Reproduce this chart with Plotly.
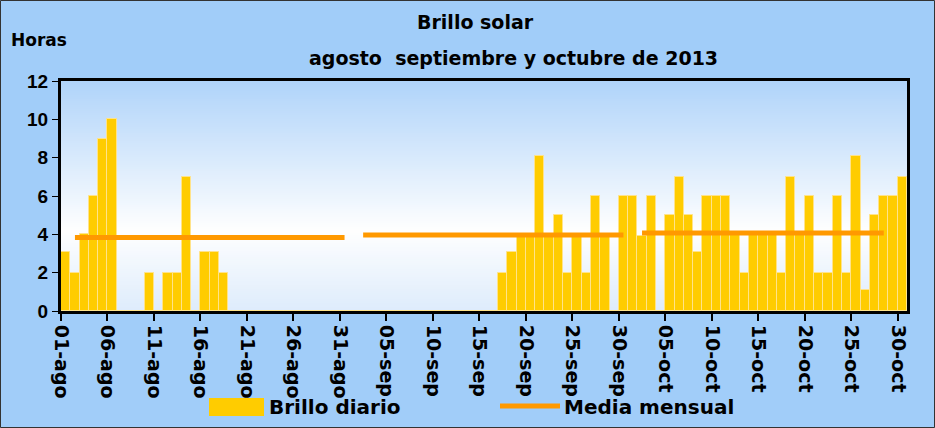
import plotly.graph_objects as go
import pandas as pd

# ---------------- data ----------------
fechas = pd.date_range("2013-08-01", "2013-10-30", freq="D")

brillo_agosto = [3.1, 2, 4, 6, 9, 10, 0, 0, 0, 2, 0, 2, 2, 7, 0, 3.1, 3.1, 2,
                 0, 0, 0, 0, 0, 0, 0, 0, 0, 0, 0, 0, 0]
brillo_septiembre = [0, 0, 0, 0, 0, 0, 0, 0, 0, 0, 0, 0, 0, 0, 0, 0,
                     2, 3.1, 3.9, 3.9, 8.1, 3.9, 5, 2, 3.9, 2, 6, 3.9, 0, 6]
brillo_octubre = [6, 3.9, 6, 0, 5, 7, 5, 3.1, 6, 6, 6, 4, 2, 4, 4, 4, 2, 7, 4, 6,
                  2, 2, 6, 2, 8.1, 1.1, 5, 6, 6, 7]
brillo_diario = brillo_agosto + brillo_septiembre + brillo_octubre

media_agosto = 3.83
media_septiembre = 3.96
media_octubre = 4.07
media_mensual = ([None] + [media_agosto] * 30 +
                 [None] + [media_septiembre] * 29 +
                 [None] + [media_octubre] * 27 + [None, None])

meses = {8: "ago", 9: "sep", 10: "oct"}
tick_fechas = fechas[::5]
tick_labels = [f"{d.day:02d}-{meses[d.month]}" for d in tick_fechas]

titulo_1 = "Brillo solar"
titulo_2 = "agosto  septiembre y octubre de 2013"

# ---------------- layout helpers ----------------
W, H = 935, 428
L, R, T, B = 61, 28, 81, 117
PW, PH = W - L - R, H - T - B


def px(xp):
    return (xp - L) / PW


def py(yp):
    return (H - B - yp) / PH


x_centros = fechas + pd.Timedelta(hours=12)
dia_ms = 86400000

fig = go.Figure()
fig.add_trace(go.Bar(
    x=x_centros, y=brillo_diario, width=dia_ms, name="Brillo diario",
    marker=dict(color="#FFCC00", line=dict(color="#FFE38A", width=1)),
))
fig.add_trace(go.Scatter(
    x=x_centros, y=media_mensual, mode="lines", name="Media mensual",
    line=dict(color="#FF9900", width=5), connectgaps=False,
))

# gradient background of the plot area
shapes = []
N = 115
top_c = (176, 212, 250)
mid_c = (255, 255, 255)
bot_c = (222, 236, 252)
split = 0.35
for k in range(N):
    f = (k + 0.5) / N
    if f >= split:
        t = (f - split) / (1 - split)
        c = tuple(int(mid_c[i] + (top_c[i] - mid_c[i]) * t) for i in range(3))
    else:
        t = (split - f) / split
        c = tuple(int(mid_c[i] + (bot_c[i] - mid_c[i]) * t) for i in range(3))
    shapes.append(dict(type="rect", xref="x domain", yref="y domain",
                       x0=0, x1=1, y0=k / N, y1=(k + 1) / N,
                       fillcolor=f"rgb{c}", line=dict(width=0), layer="below"))

# custom legend marks
shapes.append(dict(type="rect", xref="paper", yref="paper",
                   x0=px(209), x1=px(264), y0=py(416), y1=py(398),
                   fillcolor="#FFCC00", line=dict(width=0)))
shapes.append(dict(type="line", xref="paper", yref="paper",
                   x0=px(500), x1=px(560), y0=py(406), y1=py(406),
                   line=dict(color="#FF9900", width=5)))
# outer frame
shapes.append(dict(type="rect", xref="paper", yref="paper",
                   x0=px(0.5), x1=px(W - 0.5), y0=py(H - 0.5), y1=py(0.5),
                   line=dict(color="#333333", width=1), fillcolor="rgba(0,0,0,0)"))

bold_dv = dict(family="DejaVu Sans", color="black", weight="bold")

annotations = [
    dict(text=titulo_1, x=px(475), y=py(22), xref="paper", yref="paper",
         showarrow=False, xanchor="center", yanchor="middle",
         font=dict(size=19, **bold_dv)),
    dict(text=titulo_2, x=px(513), y=py(58), xref="paper", yref="paper",
         showarrow=False, xanchor="center", yanchor="middle",
         font=dict(size=19, **bold_dv)),
    dict(text="Horas", x=px(9), y=py(40), xref="paper", yref="paper",
         showarrow=False, xanchor="left", yanchor="middle",
         font=dict(size=17, **bold_dv)),
    dict(text="Brillo diario", x=px(267), y=py(407), xref="paper", yref="paper",
         showarrow=False, xanchor="left", yanchor="middle",
         font=dict(size=20, **bold_dv)),
    dict(text="Media mensual", x=px(562), y=py(407), xref="paper", yref="paper",
         showarrow=False, xanchor="left", yanchor="middle",
         font=dict(size=20, **bold_dv)),
]

fig.update_layout(
    width=W, height=H,
    margin=dict(l=L, r=R, t=T, b=B),
    paper_bgcolor="#A1CDF9",
    plot_bgcolor="white",
    showlegend=False,
    bargap=0,
    hovermode=False,
    shapes=shapes,
    annotations=annotations,
    xaxis=dict(
        type="date",
        range=["2013-08-01", "2013-10-31"],
        tickmode="array", tickvals=tick_fechas, ticktext=tick_labels,
        tickangle=90,
        ticks="outside", ticklen=7, tickwidth=2, tickcolor="black",
        showline=True, linecolor="black", linewidth=3, mirror=True,
        showgrid=False, zeroline=False,
        tickfont=dict(size=19, **bold_dv),
    ),
    yaxis=dict(
        range=[0, 12], tickmode="array", tickvals=list(range(0, 13, 2)),
        ticks="outside", ticklen=6, tickwidth=1, tickcolor="black",
        showline=True, linecolor="black", linewidth=3, mirror=True,
        showgrid=False, zeroline=False,
        tickfont=dict(family="Liberation Sans Narrow, Liberation Sans", size=19,
                      color="black", weight="bold"),
    ),
)

fig.write_html("out.html", config={"displayModeBar": False},
               post_script="document.body.style.margin='0';")
